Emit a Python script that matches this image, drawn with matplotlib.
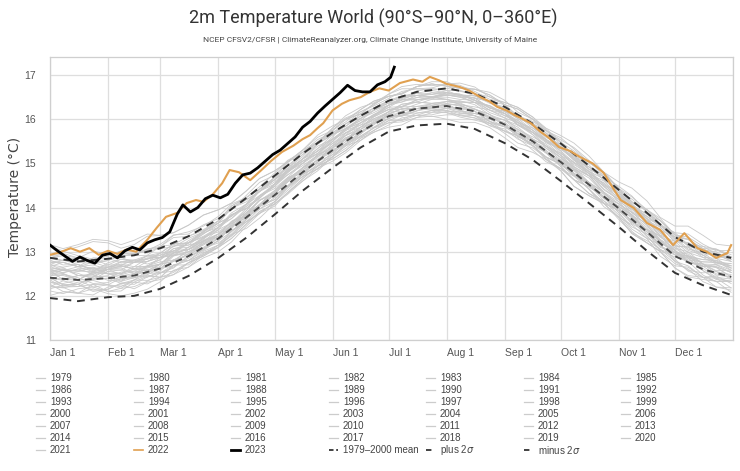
import matplotlib

matplotlib.use("Agg")
import matplotlib.pyplot as plt
from matplotlib import font_manager
from matplotlib.lines import Line2D

# --- axis labels -------------------------------------------------------------
MONTH_DAYS = [0, 31, 59, 90, 120, 151, 181, 212, 243, 273, 304, 334, 365]
MONTH_LABELS = ["Jan 1", "Feb 1", "Mar 1", "Apr 1", "May 1", "Jun 1",
                "Jul 1", "Aug 1", "Sep 1", "Oct 1", "Nov 1", "Dec 1"]
Y_TICKS = [11, 12, 13, 14, 15, 16, 17]

# --- climatology (semi-monthly readings) -------------------------------------
CLIM_DAYS = [0, 15, 31, 45, 59, 74, 90, 105, 120, 135, 151, 166, 181,
             196, 212, 227, 243, 258, 273, 288, 304, 319, 334, 349, 364]
MEAN = [12.41, 12.36, 12.40, 12.46, 12.62, 12.90, 13.30, 13.78, 14.28, 14.80,
        15.30, 15.72, 16.07, 16.24, 16.30, 16.18, 15.88, 15.50, 15.03, 14.52,
        13.98, 13.45, 12.90, 12.60, 12.43]
PLUS_2SIGMA = [12.86, 12.78, 12.84, 12.92, 13.08, 13.35, 13.74, 14.22, 14.72,
               15.22, 15.70, 16.08, 16.42, 16.62, 16.70, 16.58, 16.28, 15.90,
               15.45, 14.95, 14.40, 13.88, 13.33, 13.00, 12.86]
MINUS_2SIGMA = [11.95, 11.88, 11.97, 12.00, 12.16, 12.45, 12.86, 13.32, 13.84,
                14.38, 14.90, 15.36, 15.72, 15.86, 15.90, 15.78, 15.46, 15.08,
                14.60, 14.10, 13.56, 13.02, 12.52, 12.24, 12.02]

# --- 2022 and 2023 -----------------------------------------------------------
DAYS_2022 = [0, 5, 11, 16, 21, 26, 31, 36, 41, 46, 52, 57, 62, 68, 73, 78, 82,
             87, 92, 96, 101, 107, 113, 118, 124, 130, 135, 139, 143, 146, 151,
             156, 160, 166, 171, 176, 181, 187, 194, 199, 203, 208, 212, 219,
             224, 230, 235, 239, 244, 248, 252, 257, 262, 266, 272, 278, 283,
             290, 296, 300, 305, 312, 319, 326, 333, 339, 346, 351, 356, 362,
             364]
T2022 = [12.93, 12.98, 13.08, 13.0, 13.08, 12.93, 13.02, 12.95, 13.05, 13.0,
         13.27, 13.54, 13.79, 13.88, 14.1, 14.17, 14.13, 14.3, 14.55, 14.85,
         14.8, 14.62, 14.85, 15.05, 15.26, 15.4, 15.55, 15.64, 15.8, 15.91,
         16.2, 16.35, 16.43, 16.5, 16.62, 16.7, 16.65, 16.82, 16.9, 16.85,
         16.96, 16.88, 16.8, 16.73, 16.65, 16.5, 16.4, 16.28, 16.2, 16.1,
         16.02, 15.91, 15.72, 15.6, 15.37, 15.28, 15.15, 15.0, 14.78, 14.5,
         14.17, 13.99, 13.65, 13.5, 13.15, 13.42, 13.08, 13.0, 12.86, 12.97,
         13.15]
DAYS_2023 = [0, 4, 8, 12, 16, 20, 24, 28, 32, 36, 40, 44, 48, 52, 56, 60, 64,
             68, 71, 75, 79, 83, 87, 91, 95, 99, 103, 107, 111, 115, 119, 123,
             127, 131, 135, 139, 143, 147, 151, 155, 159, 163, 167, 171, 175,
             179, 182, 184]
T2023 = [13.15, 13.02, 12.9, 12.78, 12.88, 12.8, 12.74, 12.92, 12.96, 12.86,
         13.02, 13.1, 13.04, 13.2, 13.27, 13.32, 13.45, 13.85, 14.06, 13.9,
         14.0, 14.2, 14.28, 14.22, 14.3, 14.55, 14.74, 14.78, 14.9, 15.05,
         15.2, 15.3, 15.45, 15.6, 15.82, 15.95, 16.14, 16.3, 16.45, 16.6,
         16.77, 16.65, 16.62, 16.62, 16.78, 16.85, 16.95, 17.18]

# --- earlier years, roughly weekly readings ----------------------------------
YEAR_DAYS = [0, 7, 15, 23, 31, 38, 45, 52, 59, 66, 74, 82, 90, 97, 105, 112,
             120, 127, 135, 143, 151, 158, 166, 173, 181, 188, 196, 204, 212,
             219, 227, 235, 243, 250, 258, 265, 273, 280, 288, 296, 304, 311,
             319, 326, 334, 341, 349, 356, 364]
T1979 = [12.21, 12.34, 12.26, 12.13, 12.15, 12.29, 12.31, 12.27, 12.42, 12.69, 12.80, 12.93, 13.15, 13.48, 13.68, 13.87, 14.13, 14.47, 14.70, 14.87, 15.15, 15.42, 15.60, 15.74, 15.97, 16.09, 16.09, 16.10, 16.18, 16.18, 16.08, 15.85, 15.73, 15.62, 15.40, 15.15, 14.98, 14.76, 14.42, 14.10, 13.93, 13.71, 13.35, 13.05, 12.93, 12.85, 12.57, 12.37, 12.33]
T1980 = [12.41, 12.35, 12.46, 12.48, 12.35, 12.33, 12.51, 12.60, 12.52, 12.65, 12.90, 13.18, 13.35, 13.47, 13.73, 14.06, 14.28, 14.48, 14.75, 15.09, 15.30, 15.44, 15.67, 15.91, 16.07, 16.07, 16.19, 16.25, 16.20, 16.13, 16.13, 16.06, 15.88, 15.61, 15.45, 15.24, 14.93, 14.63, 14.47, 14.24, 13.88, 13.56, 13.40, 13.18, 12.78, 12.58, 12.52, 12.55, 12.38]
T1981 = [12.51, 12.49, 12.36, 12.53, 12.50, 12.40, 12.41, 12.48, 12.62, 12.80, 12.80, 13.06, 13.25, 13.45, 13.78, 14.04, 14.18, 14.49, 14.75, 14.95, 15.25, 15.55, 15.72, 15.90, 16.02, 16.09, 16.24, 16.30, 16.25, 16.15, 16.08, 16.00, 15.83, 15.68, 15.40, 15.14, 14.98, 14.78, 14.52, 14.30, 13.93, 13.63, 13.45, 13.26, 12.98, 12.86, 12.57, 12.40, 12.33]
T1982 = [12.26, 12.10, 12.06, 12.02, 12.20, 12.25, 12.16, 12.31, 12.37, 12.48, 12.75, 12.90, 13.10, 13.39, 13.53, 13.76, 14.08, 14.34, 14.65, 14.94, 15.10, 15.29, 15.57, 15.70, 15.87, 16.03, 16.09, 16.06, 16.10, 16.10, 16.03, 15.86, 15.78, 15.55, 15.40, 15.25, 14.98, 14.72, 14.52, 14.22, 14.03, 13.82, 13.50, 13.22, 13.03, 12.81, 12.77, 12.76, 12.63]
T1983 = [12.66, 12.76, 12.66, 12.55, 12.60, 12.77, 12.81, 12.72, 12.82, 13.07, 13.15, 13.23, 13.40, 13.68, 13.83, 14.07, 14.38, 14.64, 14.80, 15.02, 15.35, 15.58, 15.72, 15.82, 16.02, 16.19, 16.24, 16.21, 16.25, 16.27, 16.18, 15.95, 15.83, 15.67, 15.40, 15.10, 14.88, 14.71, 14.42, 14.02, 13.78, 13.61, 13.30, 12.90, 12.68, 12.65, 12.42, 12.20, 12.13]
T1984 = [12.11, 12.05, 12.16, 12.20, 12.10, 12.11, 12.31, 12.45, 12.42, 12.48, 12.65, 12.93, 13.10, 13.30, 13.63, 13.91, 14.08, 14.33, 14.65, 14.94, 15.10, 15.29, 15.57, 15.81, 15.97, 15.97, 16.09, 16.20, 16.20, 16.08, 16.03, 15.91, 15.68, 15.46, 15.35, 15.14, 14.83, 14.48, 14.27, 14.09, 13.78, 13.41, 13.20, 13.01, 12.63, 12.43, 12.37, 12.33, 12.08]
T1985 = [12.01, 12.09, 12.06, 12.16, 12.05, 12.00, 12.06, 12.15, 12.32, 12.58, 12.65, 12.86, 13.00, 13.22, 13.58, 13.87, 14.03, 14.34, 14.60, 14.83, 15.15, 15.40, 15.52, 15.75, 15.92, 15.94, 16.04, 16.15, 16.15, 16.05, 15.98, 15.90, 15.73, 15.63, 15.40, 15.09, 14.88, 14.63, 14.32, 14.15, 13.83, 13.46, 13.20, 13.01, 12.73, 12.61, 12.32, 12.20, 12.18]
T1986 = [12.21, 12.18, 12.26, 12.10, 12.15, 12.28, 12.26, 12.43, 12.52, 12.56, 12.75, 12.90, 13.10, 13.46, 13.68, 13.86, 14.13, 14.39, 14.70, 14.99, 15.15, 15.34, 15.62, 15.80, 16.02, 16.13, 16.14, 16.16, 16.25, 16.20, 16.08, 15.91, 15.83, 15.63, 15.50, 15.30, 14.98, 14.72, 14.52, 14.22, 14.03, 13.79, 13.45, 13.19, 13.03, 12.76, 12.67, 12.66, 12.53]
T1987 = [12.46, 12.59, 12.51, 12.38, 12.40, 12.54, 12.56, 12.52, 12.67, 12.92, 13.00, 13.10, 13.30, 13.63, 13.83, 14.07, 14.38, 14.67, 14.85, 15.07, 15.40, 15.63, 15.77, 15.92, 16.17, 16.34, 16.39, 16.36, 16.40, 16.42, 16.33, 16.10, 15.98, 15.87, 15.65, 15.35, 15.13, 14.91, 14.57, 14.25, 14.08, 13.84, 13.45, 13.13, 12.98, 12.95, 12.72, 12.50, 12.43]
T1988 = [12.56, 12.37, 12.36, 12.55, 12.60, 12.48, 12.56, 12.67, 12.62, 12.78, 13.05, 13.25, 13.35, 13.55, 13.88, 14.16, 14.33, 14.58, 14.90, 15.19, 15.35, 15.54, 15.82, 16.01, 16.12, 16.12, 16.24, 16.35, 16.35, 16.20, 16.13, 16.06, 15.88, 15.61, 15.45, 15.24, 14.93, 14.63, 14.47, 14.24, 13.88, 13.51, 13.30, 13.16, 12.83, 12.56, 12.42, 12.45, 12.28]
T1989 = [12.16, 12.24, 12.21, 12.26, 12.10, 12.17, 12.36, 12.35, 12.42, 12.70, 12.80, 13.01, 13.15, 13.37, 13.73, 14.02, 14.18, 14.49, 14.75, 14.93, 15.20, 15.50, 15.67, 15.90, 16.07, 16.09, 16.19, 16.30, 16.30, 16.20, 16.13, 16.05, 15.88, 15.78, 15.55, 15.24, 15.03, 14.83, 14.57, 14.35, 13.98, 13.68, 13.50, 13.26, 12.93, 12.91, 12.72, 12.55, 12.48]
T1990 = [12.41, 12.38, 12.46, 12.42, 12.60, 12.63, 12.51, 12.68, 12.77, 12.81, 13.00, 13.15, 13.35, 13.69, 13.88, 14.06, 14.33, 14.59, 14.90, 15.16, 15.30, 15.49, 15.77, 15.95, 16.17, 16.28, 16.29, 16.31, 16.40, 16.35, 16.23, 16.06, 15.98, 15.73, 15.55, 15.40, 15.13, 14.87, 14.67, 14.32, 14.08, 13.89, 13.60, 13.24, 12.98, 12.76, 12.72, 12.64, 12.43]
T1991 = [12.46, 12.51, 12.36, 12.38, 12.55, 12.59, 12.51, 12.52, 12.72, 12.92, 12.95, 13.08, 13.30, 13.63, 13.83, 14.02, 14.28, 14.64, 14.90, 15.07, 15.35, 15.63, 15.82, 15.92, 16.12, 16.24, 16.24, 16.26, 16.35, 16.32, 16.18, 15.95, 15.83, 15.67, 15.40, 15.15, 14.98, 14.76, 14.42, 14.10, 13.93, 13.71, 13.35, 13.03, 12.88, 12.78, 12.47, 12.32, 12.33]
T1992 = [12.31, 12.22, 12.31, 12.35, 12.25, 12.21, 12.36, 12.47, 12.42, 12.53, 12.75, 12.98, 13.10, 13.30, 13.63, 13.91, 14.08, 14.30, 14.60, 14.89, 15.05, 15.24, 15.52, 15.71, 15.82, 15.87, 16.04, 16.07, 16.00, 15.93, 15.93, 15.81, 15.58, 15.36, 15.25, 15.09, 14.83, 14.48, 14.27, 14.09, 13.78, 13.41, 13.20, 13.01, 12.63, 12.46, 12.42, 12.40, 12.18]
T1993 = [12.21, 12.19, 12.06, 12.26, 12.25, 12.17, 12.21, 12.33, 12.52, 12.70, 12.70, 12.96, 13.15, 13.35, 13.68, 13.97, 14.13, 14.44, 14.70, 14.88, 15.15, 15.45, 15.62, 15.80, 15.92, 15.99, 16.14, 16.20, 16.15, 16.10, 16.08, 15.95, 15.73, 15.58, 15.30, 15.04, 14.88, 14.63, 14.32, 14.10, 13.73, 13.43, 13.25, 13.06, 12.78, 12.68, 12.42, 12.33, 12.33]
T1994 = [12.31, 12.28, 12.36, 12.20, 12.25, 12.40, 12.41, 12.51, 12.52, 12.63, 12.90, 13.05, 13.25, 13.59, 13.78, 13.96, 14.23, 14.49, 14.80, 15.09, 15.25, 15.44, 15.72, 15.90, 16.12, 16.23, 16.24, 16.26, 16.35, 16.30, 16.18, 16.01, 15.93, 15.68, 15.50, 15.35, 15.08, 14.77, 14.52, 14.22, 14.03, 13.84, 13.55, 13.22, 12.98, 12.76, 12.72, 12.71, 12.58]
T1995 = [12.61, 12.64, 12.46, 12.48, 12.65, 12.69, 12.61, 12.57, 12.72, 12.97, 13.05, 13.18, 13.40, 13.68, 13.83, 14.07, 14.38, 14.67, 14.85, 15.07, 15.40, 15.68, 15.87, 15.97, 16.17, 16.34, 16.39, 16.36, 16.40, 16.37, 16.23, 16.05, 15.98, 15.82, 15.55, 15.25, 15.03, 14.86, 14.57, 14.20, 13.98, 13.76, 13.40, 13.10, 12.98, 12.90, 12.62, 12.42, 12.38]
T1996 = [12.36, 12.20, 12.21, 12.38, 12.40, 12.28, 12.36, 12.57, 12.62, 12.68, 12.85, 13.08, 13.20, 13.40, 13.73, 14.06, 14.28, 14.48, 14.75, 15.04, 15.20, 15.39, 15.67, 15.91, 16.07, 16.07, 16.19, 16.30, 16.30, 16.23, 16.23, 16.11, 15.88, 15.61, 15.45, 15.29, 15.03, 14.73, 14.57, 14.34, 13.98, 13.66, 13.50, 13.36, 13.03, 12.78, 12.67, 12.70, 12.53]
T1997 = [12.46, 12.46, 12.36, 12.53, 12.50, 12.45, 12.51, 12.53, 12.62, 12.90, 13.00, 13.21, 13.35, 13.55, 13.88, 14.17, 14.33, 14.64, 14.90, 15.13, 15.45, 15.70, 15.82, 16.05, 16.22, 16.29, 16.44, 16.50, 16.45, 16.40, 16.38, 16.30, 16.13, 15.98, 15.70, 15.47, 15.33, 15.08, 14.77, 14.60, 14.28, 13.98, 13.80, 13.56, 13.23, 13.21, 13.02, 12.85, 12.78]
T1998 = [12.86, 12.80, 12.86, 12.72, 12.80, 12.95, 12.96, 13.06, 13.07, 13.11, 13.30, 13.45, 13.65, 13.99, 14.18, 14.36, 14.63, 14.84, 15.10, 15.44, 15.65, 15.79, 16.02, 16.20, 16.42, 16.53, 16.54, 16.51, 16.55, 16.55, 16.48, 16.26, 16.13, 15.88, 15.70, 15.50, 15.18, 14.92, 14.72, 14.34, 14.08, 13.89, 13.60, 13.27, 13.03, 12.76, 12.67, 12.66, 12.53]
T1999 = [12.36, 12.49, 12.41, 12.28, 12.30, 12.44, 12.46, 12.42, 12.57, 12.82, 12.90, 13.03, 13.25, 13.58, 13.78, 14.02, 14.33, 14.62, 14.80, 15.02, 15.35, 15.58, 15.72, 15.87, 16.12, 16.24, 16.24, 16.26, 16.35, 16.32, 16.18, 15.95, 15.83, 15.72, 15.50, 15.25, 15.08, 14.86, 14.52, 14.15, 13.93, 13.79, 13.50, 13.13, 12.93, 12.90, 12.67, 12.47, 12.43]
T2000 = [12.41, 12.25, 12.26, 12.43, 12.45, 12.36, 12.46, 12.67, 12.72, 12.78, 12.95, 13.23, 13.40, 13.55, 13.83, 14.16, 14.38, 14.58, 14.85, 15.19, 15.40, 15.54, 15.77, 16.01, 16.17, 16.17, 16.29, 16.35, 16.30, 16.23, 16.23, 16.11, 15.88, 15.66, 15.55, 15.39, 15.13, 14.78, 14.57, 14.34, 13.98, 13.66, 13.50, 13.36, 13.03, 12.78, 12.67, 12.65, 12.43]
T2001 = [12.51, 12.59, 12.56, 12.63, 12.50, 12.50, 12.61, 12.68, 12.82, 13.03, 13.05, 13.26, 13.40, 13.60, 13.93, 14.27, 14.48, 14.74, 14.95, 15.18, 15.50, 15.75, 15.87, 16.10, 16.27, 16.29, 16.39, 16.50, 16.50, 16.45, 16.43, 16.30, 16.08, 15.93, 15.65, 15.39, 15.23, 15.03, 14.77, 14.55, 14.18, 13.88, 13.70, 13.46, 13.13, 13.11, 12.92, 12.75, 12.68]
T2002 = [12.71, 12.58, 12.56, 12.55, 12.75, 12.83, 12.76, 12.86, 12.87, 12.96, 13.20, 13.35, 13.55, 13.84, 13.98, 14.21, 14.53, 14.74, 15.00, 15.34, 15.55, 15.69, 15.92, 16.10, 16.32, 16.48, 16.54, 16.51, 16.55, 16.50, 16.38, 16.21, 16.13, 15.88, 15.70, 15.55, 15.28, 15.02, 14.82, 14.47, 14.23, 14.04, 13.75, 13.42, 13.18, 12.91, 12.82, 12.81, 12.68]
T2003 = [12.71, 12.81, 12.71, 12.60, 12.65, 12.72, 12.66, 12.67, 12.87, 13.07, 13.10, 13.28, 13.55, 13.83, 13.98, 14.22, 14.53, 14.87, 15.10, 15.27, 15.55, 15.78, 15.92, 16.07, 16.32, 16.44, 16.44, 16.48, 16.60, 16.57, 16.43, 16.25, 16.18, 16.02, 15.75, 15.50, 15.33, 15.16, 14.87, 14.50, 14.28, 14.06, 13.70, 13.38, 13.23, 13.20, 12.97, 12.77, 12.73]
T2004 = [12.66, 12.57, 12.66, 12.70, 12.60, 12.58, 12.76, 12.90, 12.87, 12.93, 13.10, 13.33, 13.45, 13.65, 13.98, 14.26, 14.43, 14.68, 15.00, 15.29, 15.45, 15.64, 15.92, 16.11, 16.22, 16.27, 16.44, 16.50, 16.45, 16.38, 16.38, 16.31, 16.13, 15.86, 15.70, 15.54, 15.28, 14.93, 14.72, 14.56, 14.28, 13.91, 13.70, 13.56, 13.23, 12.98, 12.87, 12.85, 12.63]
T2005 = [12.76, 12.76, 12.66, 12.86, 12.85, 12.75, 12.76, 12.83, 12.97, 13.18, 13.20, 13.46, 13.65, 13.80, 14.08, 14.37, 14.53, 14.84, 15.10, 15.33, 15.65, 15.90, 16.02, 16.20, 16.32, 16.39, 16.54, 16.60, 16.55, 16.50, 16.48, 16.40, 16.23, 16.08, 15.80, 15.54, 15.38, 15.13, 14.82, 14.65, 14.33, 14.03, 13.85, 13.61, 13.28, 13.18, 12.92, 12.75, 12.68]
T2006 = [12.56, 12.53, 12.61, 12.50, 12.60, 12.68, 12.61, 12.78, 12.87, 12.91, 13.10, 13.30, 13.55, 13.84, 13.98, 14.21, 14.53, 14.79, 15.10, 15.39, 15.55, 15.74, 16.02, 16.15, 16.32, 16.48, 16.54, 16.51, 16.55, 16.55, 16.48, 16.26, 16.13, 15.93, 15.80, 15.65, 15.38, 15.07, 14.82, 14.52, 14.33, 14.09, 13.75, 13.49, 13.33, 13.06, 12.97, 12.96, 12.83]
T2007 = [12.91, 12.94, 12.76, 12.73, 12.85, 12.87, 12.76, 12.77, 12.97, 13.17, 13.20, 13.33, 13.55, 13.88, 14.08, 14.27, 14.53, 14.82, 15.00, 15.22, 15.55, 15.78, 15.92, 16.07, 16.32, 16.44, 16.44, 16.46, 16.55, 16.52, 16.38, 16.15, 16.03, 15.92, 15.70, 15.40, 15.18, 15.01, 14.72, 14.35, 14.13, 13.96, 13.65, 13.28, 13.08, 13.00, 12.72, 12.57, 12.58]
T2008 = [12.41, 12.25, 12.26, 12.43, 12.45, 12.33, 12.41, 12.65, 12.72, 12.78, 12.95, 13.18, 13.30, 13.52, 13.88, 14.16, 14.33, 14.58, 14.90, 15.19, 15.35, 15.54, 15.82, 16.06, 16.22, 16.22, 16.34, 16.45, 16.45, 16.33, 16.28, 16.21, 16.03, 15.76, 15.60, 15.44, 15.18, 14.88, 14.72, 14.49, 14.13, 13.81, 13.65, 13.46, 13.08, 12.88, 12.82, 12.80, 12.58]
T2009 = [12.56, 12.61, 12.56, 12.63, 12.50, 12.50, 12.61, 12.63, 12.72, 12.98, 13.05, 13.31, 13.50, 13.65, 13.93, 14.27, 14.48, 14.79, 15.05, 15.23, 15.50, 15.80, 15.97, 16.20, 16.37, 16.39, 16.49, 16.60, 16.60, 16.55, 16.53, 16.40, 16.18, 16.08, 15.85, 15.54, 15.33, 15.13, 14.87, 14.70, 14.38, 14.03, 13.80, 13.61, 13.33, 13.28, 13.07, 12.90, 12.83]
T2010 = [12.86, 12.80, 12.86, 12.80, 12.95, 13.00, 12.91, 13.06, 13.12, 13.16, 13.35, 13.50, 13.70, 14.04, 14.23, 14.41, 14.68, 14.89, 15.15, 15.49, 15.70, 15.84, 16.07, 16.20, 16.37, 16.53, 16.59, 16.56, 16.60, 16.55, 16.43, 16.26, 16.18, 15.93, 15.75, 15.55, 15.23, 14.97, 14.77, 14.42, 14.18, 13.99, 13.70, 13.37, 13.13, 12.86, 12.77, 12.76, 12.63]
T2011 = [12.56, 12.61, 12.46, 12.45, 12.60, 12.67, 12.61, 12.57, 12.72, 12.97, 13.05, 13.23, 13.50, 13.83, 14.03, 14.22, 14.48, 14.82, 15.05, 15.22, 15.50, 15.78, 15.97, 16.07, 16.27, 16.44, 16.49, 16.51, 16.60, 16.57, 16.43, 16.20, 16.08, 15.97, 15.75, 15.50, 15.33, 15.11, 14.77, 14.40, 14.18, 14.01, 13.70, 13.33, 13.13, 13.10, 12.87, 12.72, 12.73]
T2012 = [12.61, 12.52, 12.61, 12.65, 12.55, 12.51, 12.66, 12.85, 12.87, 12.98, 13.20, 13.43, 13.55, 13.75, 14.08, 14.41, 14.63, 14.83, 15.10, 15.44, 15.65, 15.79, 16.02, 16.26, 16.42, 16.47, 16.64, 16.70, 16.65, 16.53, 16.48, 16.41, 16.23, 16.01, 15.90, 15.69, 15.38, 15.08, 14.92, 14.69, 14.33, 13.96, 13.75, 13.61, 13.28, 13.03, 12.92, 12.95, 12.78]
T2013 = [12.76, 12.81, 12.76, 12.83, 12.70, 12.70, 12.81, 12.83, 12.92, 13.13, 13.15, 13.41, 13.60, 13.75, 14.03, 14.37, 14.58, 14.84, 15.05, 15.28, 15.60, 15.90, 16.07, 16.25, 16.37, 16.44, 16.59, 16.65, 16.60, 16.55, 16.53, 16.40, 16.18, 16.08, 15.85, 15.59, 15.43, 15.18, 14.87, 14.70, 14.38, 14.03, 13.80, 13.61, 13.33, 13.28, 13.07, 12.90, 12.83]
T2014 = [12.71, 12.65, 12.71, 12.57, 12.65, 12.78, 12.76, 12.91, 12.97, 13.01, 13.20, 13.40, 13.65, 13.99, 14.18, 14.36, 14.63, 14.89, 15.20, 15.49, 15.65, 15.84, 16.12, 16.25, 16.42, 16.53, 16.54, 16.56, 16.65, 16.65, 16.58, 16.41, 16.33, 16.08, 15.90, 15.75, 15.48, 15.17, 14.92, 14.62, 14.43, 14.24, 13.95, 13.62, 13.38, 13.16, 13.12, 13.06, 12.88]
T2015 = [12.86, 12.96, 12.86, 12.75, 12.80, 12.92, 12.91, 12.92, 13.12, 13.32, 13.35, 13.48, 13.70, 14.03, 14.23, 14.42, 14.68, 15.02, 15.25, 15.47, 15.80, 16.03, 16.17, 16.32, 16.57, 16.69, 16.69, 16.71, 16.80, 16.82, 16.73, 16.50, 16.38, 16.27, 16.05, 15.80, 15.63, 15.46, 15.17, 14.80, 14.58, 14.44, 14.15, 13.78, 13.58, 13.58, 13.37, 13.17, 13.13]
T2016 = [13.16, 13.07, 13.16, 13.28, 13.25, 13.16, 13.26, 13.40, 13.37, 13.43, 13.60, 13.83, 13.95, 14.10, 14.38, 14.66, 14.83, 15.03, 15.30, 15.59, 15.75, 15.94, 16.22, 16.41, 16.52, 16.57, 16.74, 16.85, 16.85, 16.73, 16.68, 16.61, 16.43, 16.16, 16.00, 15.79, 15.48, 15.18, 15.02, 14.79, 14.43, 14.06, 13.85, 13.71, 13.38, 13.13, 13.02, 13.05, 12.88]
T2017 = [12.86, 12.91, 12.86, 13.01, 12.95, 12.90, 12.96, 13.03, 13.17, 13.38, 13.40, 13.61, 13.75, 13.95, 14.28, 14.57, 14.73, 15.04, 15.30, 15.48, 15.75, 16.00, 16.12, 16.35, 16.52, 16.59, 16.74, 16.80, 16.75, 16.70, 16.68, 16.55, 16.33, 16.23, 16.00, 15.69, 15.48, 15.28, 15.02, 14.80, 14.43, 14.13, 13.95, 13.71, 13.38, 13.28, 13.02, 12.90, 12.88]
T2018 = [12.81, 12.70, 12.71, 12.60, 12.70, 12.83, 12.81, 12.91, 12.92, 13.01, 13.25, 13.45, 13.70, 13.99, 14.13, 14.36, 14.68, 14.94, 15.25, 15.54, 15.70, 15.89, 16.17, 16.30, 16.47, 16.63, 16.69, 16.66, 16.70, 16.65, 16.53, 16.36, 16.28, 16.08, 15.95, 15.75, 15.43, 15.17, 14.97, 14.62, 14.38, 14.19, 13.90, 13.62, 13.43, 13.16, 13.07, 13.06, 12.93]
T2019 = [12.91, 13.01, 12.91, 12.83, 12.90, 13.02, 13.01, 12.97, 13.12, 13.37, 13.45, 13.58, 13.80, 14.08, 14.23, 14.47, 14.78, 15.07, 15.25, 15.47, 15.80, 16.08, 16.27, 16.37, 16.57, 16.74, 16.79, 16.76, 16.80, 16.77, 16.63, 16.45, 16.38, 16.27, 16.05, 15.75, 15.53, 15.36, 15.07, 14.70, 14.48, 14.26, 13.90, 13.58, 13.43, 13.40, 13.17, 13.02, 13.03]
T2020 = [13.11, 13.02, 13.11, 13.23, 13.20, 13.08, 13.16, 13.35, 13.37, 13.43, 13.60, 13.83, 13.95, 14.10, 14.38, 14.66, 14.83, 15.03, 15.30, 15.64, 15.85, 15.99, 16.22, 16.41, 16.52, 16.57, 16.74, 16.80, 16.75, 16.63, 16.58, 16.51, 16.33, 16.06, 15.90, 15.69, 15.38, 15.08, 14.92, 14.74, 14.43, 14.11, 13.95, 13.76, 13.38, 13.13, 13.02, 13.00, 12.78]
T2021 = [12.76, 12.76, 12.66, 12.76, 12.65, 12.65, 12.76, 12.78, 12.87, 13.13, 13.20, 13.46, 13.65, 13.80, 14.08, 14.42, 14.63, 14.94, 15.20, 15.43, 15.75, 16.00, 16.12, 16.35, 16.52, 16.59, 16.74, 16.80, 16.75, 16.70, 16.68, 16.55, 16.33, 16.23, 16.00, 15.74, 15.58, 15.33, 15.02, 14.80, 14.43, 14.13, 13.95, 13.71, 13.38, 13.33, 13.12, 12.95, 12.88]

GRAY_SERIES = [T1979, T1980, T1981, T1982, T1983, T1984, T1985, T1986, T1987,
               T1988, T1989, T1990, T1991, T1992, T1993, T1994, T1995, T1996,
               T1997, T1998, T1999, T2000, T2001, T2002, T2003, T2004, T2005,
               T2006, T2007, T2008, T2009, T2010, T2011, T2012, T2013, T2014,
               T2015, T2016, T2017, T2018, T2019, T2020, T2021]

GRAY = "#c9c9c9"
ORANGE = "#e0a050"
TEXT = "#444444"


def pick_font(names):
    for name in names:
        try:
            font_manager.findfont(name, fallback_to_default=False)
            return name
        except ValueError:
            continue
    return "DejaVu Sans"


title_font = pick_font(["Liberation Sans Narrow", "DejaVu Sans Condensed", "Roboto", "DejaVu Sans"])
small_font = pick_font(["Liberation Sans", "DejaVu Sans"])

fig = plt.figure(figsize=(7.4, 4.71), dpi=100)
ax = fig.add_axes([50 / 740, 1 - 340 / 471, 683 / 740, 283 / 471])

for series in GRAY_SERIES:
    ax.plot(YEAR_DAYS, series, color=GRAY, lw=0.6, zorder=2)

ax.plot(CLIM_DAYS, PLUS_2SIGMA, color="#333333", lw=1.4, ls=(0, (4, 3)), zorder=3)
ax.plot(CLIM_DAYS, MINUS_2SIGMA, color="#333333", lw=1.4, ls=(0, (4, 3)), zorder=3)
ax.plot(CLIM_DAYS, MEAN, color="#4a4a4a", lw=1.4, ls=(0, (3.5, 2.5)), zorder=3)
ax.plot(DAYS_2022, T2022, color=ORANGE, lw=1.5, zorder=4)
ax.plot(DAYS_2023, T2023, color="black", lw=2.0, zorder=5)

ax.set_xlim(0, 365)
ax.set_ylim(11, 17.41)
ax.set_xticks(MONTH_DAYS)
ax.set_xticklabels(MONTH_LABELS + [""], ha="left", family=small_font)
ax.set_yticks(Y_TICKS)
ax.set_yticklabels([str(v) for v in Y_TICKS], family=small_font)
ax.tick_params(length=0, labelsize=7.5, labelcolor="#555555")
ax.tick_params(axis="y", pad=10)
ax.tick_params(axis="x", pad=6)
ax.grid(True, color="#dedede", lw=0.9)
ax.set_axisbelow(True)
for spine in ax.spines.values():
    spine.set_color("#cfcfcf")
    spine.set_linewidth(0.9)

fig.text(15 / 740, 1 - 197 / 471, "Temperature (°C)", rotation=90,
         ha="center", va="center", fontsize=10, color=TEXT)
fig.text(373 / 740, 1 - 18 / 471, "2m Temperature World (90°S–90°N, 0–360°E)",
         ha="center", va="center", fontsize=13, color="#333333",
         family=[title_font, "DejaVu Sans"])
fig.text(370 / 740, 1 - 40 / 471,
         "NCEP CFSV2/CFSR | ClimateReanalyzer.org, Climate Change Institute, University of Maine",
         ha="center", va="center", fontsize=6, color="#444444",
         family=[title_font, "DejaVu Sans"])

# legend laid out in rows of seven, like the original
labels = [str(y) for y in range(1979, 2024)] + ["1979–2000 mean", "plus 2$\\sigma$", "minus 2$\\sigma$"]
col_x = [50, 148, 245, 343, 440, 538, 635]
row_y = [378, 390, 402, 414, 426, 438, 450]
for k, label in enumerate(labels):
    row, col = divmod(k, 7)
    x, y = col_x[col], row_y[row]
    style = dict(color="#cccccc", lw=0.9, ls="-")
    if label == "2022":
        style = dict(color=ORANGE, lw=1.2, ls="-")
    elif label == "2023":
        style = dict(color="black", lw=2.0, ls="-")
    elif label.startswith("1979–"):
        style = dict(color="#333333", lw=1.3, ls=(0, (2.5, 1.5)))
    elif "sigma" in label:
        style = dict(color="#333333", lw=1.3, ls=(0, (3, 2, 1, 2)))
    fig.add_artist(Line2D([(x - 14) / 740, (x - 5) / 740], [1 - y / 471] * 2, **style))
    fig.text(x / 740, 1 - y / 471, label, ha="left", va="center", fontsize=7,
             color=TEXT, family=small_font)

fig.savefig("out.png", dpi=100)
